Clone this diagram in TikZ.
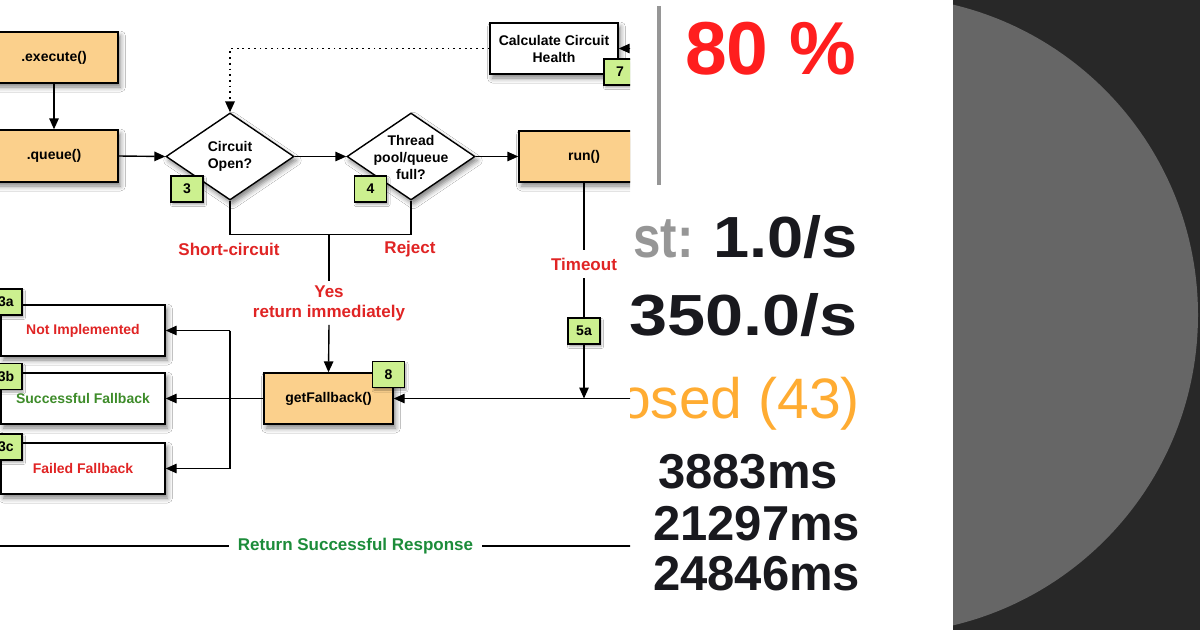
\documentclass[tikz,border=0pt]{standalone}
\usepackage{fontspec}
\setmainfont{Liberation Sans}
\usetikzlibrary{shapes.geometric,arrows.meta,shadows.blur}
\definecolor{boxorange}{RGB}{251,208,140}
\definecolor{badgegreen}{RGB}{204,240,143}
\definecolor{lblred}{RGB}{224,36,36}
\definecolor{fbgreen}{RGB}{62,140,42}
\definecolor{retgreen}{RGB}{28,140,58}
\definecolor{darkbg}{RGB}{40,40,40}
\definecolor{circgray}{RGB}{102,102,102}
\definecolor{dashgray}{RGB}{150,150,150}
\definecolor{dashred}{RGB}{255,30,30}
\definecolor{dashorange}{RGB}{255,172,50}
\definecolor{dashblack}{RGB}{25,25,30}
\tikzset{
 shad/.style={blur shadow={shadow xshift=2.5pt, shadow yshift=-4pt, shadow blur radius=5pt, shadow opacity=50}},
 fbox/.style={draw, line width=1.4pt, inner sep=0, align=center, font=\fontsize{14}{17}\selectfont\bfseries, shad},
 obox/.style={fbox, fill=boxorange},
 wbox/.style={fbox, fill=white},
 dec/.style={diamond, draw, fill=white, line width=1.4pt, inner sep=0, minimum width=128pt, minimum height=87pt, shad},
 dectext/.style={align=center, font=\fontsize{14}{17}\selectfont\bfseries, inner sep=0},
 badge/.style={draw, fill=badgegreen, line width=1.4pt, minimum width=32pt, minimum height=26pt, inner sep=0, font=\fontsize{14}{17}\selectfont\bfseries, blur shadow={shadow xshift=1.5pt, shadow yshift=-2.5pt, shadow blur radius=2pt, shadow opacity=35}},
 lbl/.style={text=lblred, font=\fontsize{17}{20}\selectfont\bfseries, align=center},
 conn/.style={line width=1.4pt},
 arr/.style={conn, -{Triangle[length=11pt,width=9.5pt]}},
 dtxt/.style={inner sep=0},
}
\begin{document}
\begin{tikzpicture}[x=1pt,y=-1pt]
\useasboundingbox (0,0) rectangle (1200,630);
\fill[white] (0,0) rectangle (1200,630);

% ---------------- left panel: flow diagram ----------------
\begin{scope}
\clip (0,0) rectangle (630,630);
\node[obox, minimum width=128pt, minimum height=51pt] (exec) at (54,57.5) {.execute()};
\node[obox, minimum width=128pt, minimum height=52pt] (queue) at (54,156) {.queue()};
\node[dec] (circ) at (230,156.5) {};
\node[dectext] (circt) at (230,156.5) {Circuit\\Open?};
\node[dec] (thr) at (411,156.5) {};
\node[dectext] (thrt) at (411,157.5) {Thread\\pool/queue\\full?};
\node[obox, minimum width=130pt, minimum height=51pt] (run) at (584,156.5) {run()};
\node[wbox, minimum width=128pt, minimum height=51pt] (calc) at (554,48.5) {Calculate Circuit\\Health};
\node[obox, minimum width=129pt, minimum height=51pt] (getfb) at (328.5,398.5) {getFallback()};
\node[wbox, minimum width=164pt, minimum height=51pt] (notimpl) at (83,330.5) {\textcolor{lblred}{Not Implemented}};
\node[wbox, minimum width=164pt, minimum height=51pt] (succ) at (83,398.5) {\textcolor{fbgreen}{Successful Fallback}};
\node[wbox, minimum width=164pt, minimum height=51pt] (fail) at (83,468.5) {\textcolor{lblred}{Failed Fallback}};

\node[badge] (b3) at (187,189) {3};
\node[badge] (b4) at (370.5,189) {4};
\node[badge] (b7) at (620,72) {7};
\node[badge] (b8) at (388.5,374.5) {8};
\node[badge] (b5a) at (584,331) {5a};
\node[badge] (b3a) at (6,302) {3a};
\node[badge] (b3b) at (6,376.5) {3b};
\node[badge] (b3c) at (6,447) {3c};

\node[lbl] (short) at (229,249) {Short-circuit};
\node[lbl] (rej) at (410,249) {Reject};
\node[lbl, inner sep=4pt] (yes) at (329,303) {Yes\\return immediately};
\node[lbl, inner ysep=8pt] (tout) at (584,264) {Timeout};
\node[text=retgreen, font=\fontsize{17}{20}\selectfont\bfseries, inner xsep=9pt] (ret) at (355.5,546) {Return Successful Response};

\coordinate (j) at (329,234);
\coordinate (cin) at (645,48.5);
\coordinate (rin) at (645,398.5);
\coordinate (m5) at (584,398.5);
\coordinate (bt) at (230,330.5);
\coordinate (bb) at (230,468.5);
\coordinate (rl) at (-5,546);
\coordinate (rr) at (645,546);

\draw[arr] (exec) -- (queue);
\draw[arr] (queue.east) -- (circ.west);
\draw[arr] (circ.east) -- (thr.west);
\draw[arr] (thr.east) -- (run.west);
\draw[arr] (cin) -- (calc.east);
\draw[arr, line width=1.8pt, dash pattern=on 1.8pt off 3.9pt] (calc.west) -| (circ.north);
\draw[conn] (circ.south) -- ++(0,34) -| (thr.south);
\draw[conn] (j) -- (yes.north);
\draw[arr] (yes.south) -- (getfb.north);
\draw[conn] (run.south) -- (tout.north);
\draw[conn] (tout.south) -- (b5a.north);
\draw[arr] (b5a.south) -- (m5);
\draw[arr] (rin) -- (getfb.east);
\draw[arr] (getfb.west) -- (succ.east);
\draw[conn] (bt) -- (bb);
\draw[arr] (bt) -- (notimpl.east);
\draw[arr] (bb) -- (fail.east);
\draw[conn] (rl) -- (ret.west);
\draw[conn] (ret.east) -- (rr);
\end{scope}

% ---------------- middle panel: dashboard crop ----------------
\begin{scope}
\clip (630,0) rectangle (953,630);
\draw[dashgray, line width=3.5pt] (659,6) -- (659,185);
\node[dtxt, anchor=base west, text=dashred, font=\fontsize{75}{75}\selectfont\bfseries] (pct) at (685,74) {80 \%};
\node[dtxt, anchor=base west, text=dashgray, font=\fontsize{58}{58}\selectfont\bfseries] (hostl) at (633,257) {\scalebox{0.85}[1]{st:}};
\node[dtxt, anchor=base east, text=dashblack, font=\fontsize{58}{58}\selectfont\bfseries] (hostv) at (858,257) {\scalebox{1.12}[1]{1.0/s}};
\node[dtxt, anchor=base east, text=dashblack, font=\fontsize{58}{58}\selectfont\bfseries] (clus) at (858,335) {\scalebox{1.18}[1]{350.0/s}};
\node[dtxt, anchor=base east, text=dashorange, font=\fontsize{57}{57}\selectfont] (closed) at (860,418) {osed (43)};
\node[dtxt, anchor=base west, text=dashblack, font=\fontsize{49}{49}\selectfont\bfseries] (l1) at (658,488) {3883ms};
\node[dtxt, anchor=base west, text=dashblack, font=\fontsize{49}{49}\selectfont\bfseries] (l2) at (653,540) {21297ms};
\node[dtxt, anchor=base west, text=dashblack, font=\fontsize{49}{49}\selectfont\bfseries] (l3) at (653,590) {24846ms};
\end{scope}

% ---------------- right panel ----------------
\fill[darkbg] (953,0) rectangle (1200,630);
\begin{scope}
\clip (953,0) rectangle (1200,630);
\fill[circgray] (879,315) circle[radius=319];
\end{scope}
\end{tikzpicture}
\end{document}
